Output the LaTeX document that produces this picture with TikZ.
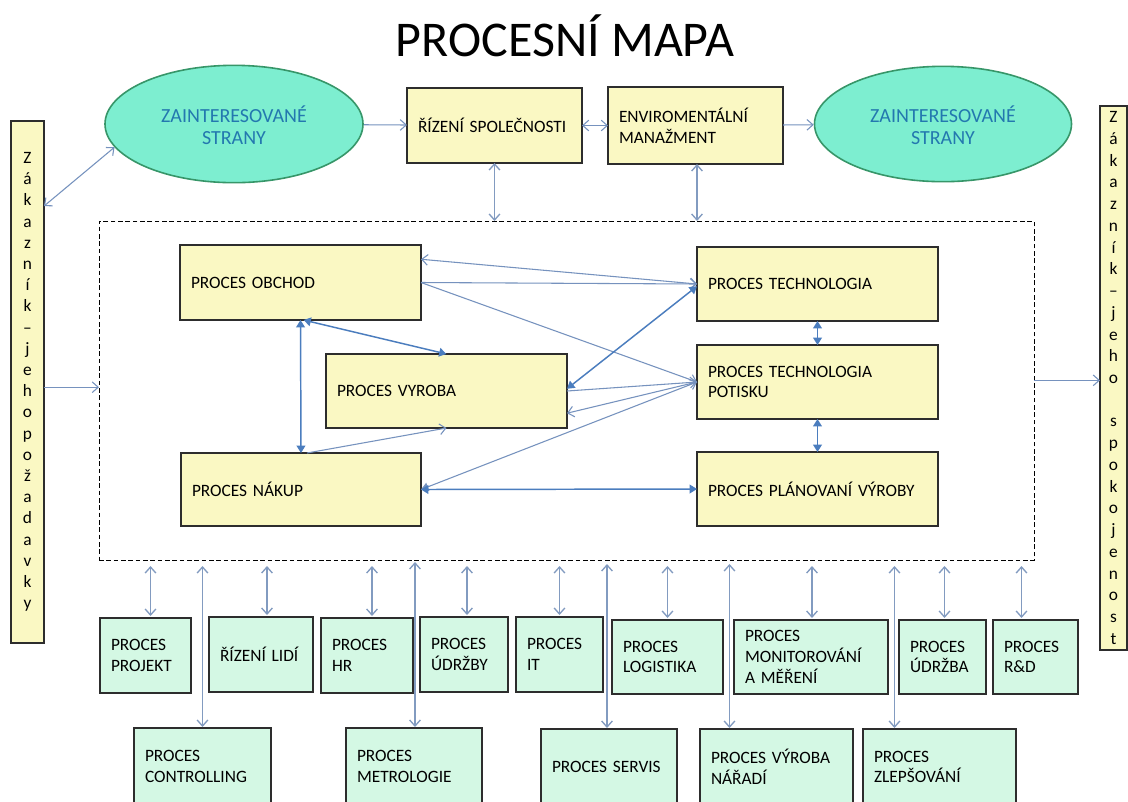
\documentclass[tikz,border=0pt]{standalone}
\usepackage{fontspec}
\setmainfont{Carlito}
\usetikzlibrary{arrows.meta,shapes.geometric,calc}
\definecolor{yfill}{RGB}{250,248,195}
\definecolor{gfill}{RGB}{212,248,228}
\definecolor{ellfill}{RGB}{125,238,208}
\definecolor{ellline}{RGB}{55,150,105}
\definecolor{elltext}{RGB}{35,120,175}
\definecolor{oline}{RGB}{118,146,190}
\definecolor{vline}{RGB}{130,155,192}
\definecolor{fline}{RGB}{75,125,190}
\definecolor{bord}{RGB}{45,45,45}
\newcommand{\procbox}[7]{%
 \pgfmathsetmacro{\pbW}{(#5-#3-22)*0.75}%
 \pgfmathsetmacro{\pbH}{(#6-#4)*0.75}%
 \node[#1, text width=\pbW pt, minimum height=\pbH pt] (#2) at ({(#3+#5)/2},{(#4+#6)/2}) {#7};}
\newcommand{\elltxt}{\raisebox{0pt}[\dimexpr\height+6.5pt\relax][\depth]{\begin{tabular}{@{}c@{}}ZAINTERESOVANÉ\\STRANY\end{tabular}}}
\tikzset{
 ot/.tip={Straight Barb[length=4.5pt,width=8pt]},
 ft/.tip={Triangle[length=5.5pt,width=6.5pt]},
 ybox/.style={draw=bord, line width=0.9pt, fill=yfill, inner xsep=8.25pt, inner ysep=0pt, outer sep=0pt, align=left, font=\fontsize{13}{15.6}\selectfont},
 gbox/.style={ybox, fill=gfill},
 ell/.style={ellipse, draw=ellline, line width=1.2pt, fill=ellfill, text=elltext, inner sep=0pt, font=\fontsize{15}{16.2}\selectfont},
 oarr/.style={draw=oline, line width=0.8pt},
 varr/.style={draw=vline, line width=1pt, ot-ot},
 farr/.style={draw=fline, line width=1.1pt},
 dashbox/.style={draw=black, line width=0.75pt, dash pattern=on 3.5pt off 2pt, inner sep=0pt, outer sep=0pt},
}
\begin{document}
\begin{tikzpicture}[x=0.75pt,y=-0.75pt]
\useasboundingbox (0,0) rectangle (1128,801);
\fill[white] (0,0) rectangle (1128,801);

\node[anchor=base, font=\fontsize{37.5}{40}\selectfont] (title) at (565,56) {PROCESNÍ MAPA};

% dashed frame
\node[dashbox, minimum width=701.25pt, minimum height=254.25pt] (dash) at (566.5,390.5) {};

% ellipses
\node[ell, minimum width=193.5pt, minimum height=88pt] (ell1) at (234,124) {\elltxt};
\node[ell, minimum width=192.75pt, minimum height=86.5pt] (ell2) at (943,124) {\elltxt};

% top boxes
\procbox{ybox}{rizeni}{407}{88}{582}{163}{ŘÍZENÍ SPOLEČNOSTI}
\procbox{ybox}{enviro}{608}{87}{783}{164}{ENVIROMENTÁLNÍ\\MANAŽMENT}

% side boxes
\node[ybox, align=center, inner xsep=0pt, minimum width=24.75pt, minimum height=391.5pt, font=\fontsize{13}{15.9}\selectfont] (zl) at (27.5,382)
 {Z\\á\\k\\a\\z\\n\\í\\k\\–\\j\\e\\h\\o\\p\\o\\ž\\a\\d\\a\\v\\k\\y};
\node[ybox, align=center, inner xsep=0pt, minimum width=20.25pt, minimum height=408pt, font=\fontsize{13}{16.3}\selectfont] (zr) at (1113.5,378)
 {Z\\á\\k\\a\\z\\n\\í\\k\\–\\j\\e\\h\\o\\~\\s\\p\\o\\k\\o\\j\\e\\n\\o\\s\\t};

% core processes
\procbox{ybox}{obchod}{180}{245}{421}{320}{PROCES OBCHOD}
\procbox{ybox}{vyroba}{326}{354}{567}{428}{PROCES VYROBA}
\procbox{ybox}{nakup}{181}{453}{421}{526}{PROCES NÁKUP}
\procbox{ybox}{tech}{697}{247}{938}{321}{PROCES TECHNOLOGIA}
\procbox{ybox}{pot}{697}{345}{938}{419}{PROCES TECHNOLOGIA\\POTISKU}
\procbox{ybox}{plan}{697}{452}{938}{526}{PROCES PLÁNOVANÍ VÝROBY}

% support processes, row 1
\procbox{gbox}{projekt}{100}{618}{191}{693}{PROCES\\PROJEKT}
\procbox{gbox}{lidi}{209}{617}{313}{692}{ŘÍZENÍ LIDÍ}
\procbox{gbox}{hr}{321}{618}{413}{693}{PROCES\\HR}
\procbox{gbox}{udrzby}{420}{617}{508}{692}{PROCES\\ÚDRŽBY}
\procbox{gbox}{it}{516}{617}{603}{692}{PROCES\\IT}
\procbox{gbox}{logistika}{612}{620}{723}{694}{PROCES\\LOGISTIKA}
\procbox{gbox}{monitor}{734}{620}{888}{694}{PROCES\\MONITOROVÁNÍ\\A MĚŘENÍ}
\procbox{gbox}{udrzba}{899}{620}{986}{694}{PROCES\\ÚDRŽBA}
\procbox{gbox}{rd}{993}{620}{1078}{694}{PROCES\\R\&D}
% row 2
\procbox{gbox}{controlling}{134}{728}{271}{805}{PROCES\\CONTROLLING}
\procbox{gbox}{metrologie}{346}{728}{482}{805}{PROCES\\METROLOGIE}
\procbox{gbox}{servis}{541}{729}{677}{805}{PROCES SERVIS}
\procbox{gbox}{naradi}{700}{729}{853}{805}{PROCES VÝROBA\\NÁŘADÍ}
\procbox{gbox}{zlepsovani}{863}{729}{1016}{805}{PROCES\\ZLEPŠOVÁNÍ}

% top connectors
\draw[oarr, -ot] (ell1) -- (rizeni);
\draw[oarr, ot-ot] (rizeni) -- (enviro);
\draw[oarr, -ot] (enviro) -- (ell2);
\draw[varr] (rizeni.south) -- (rizeni.south |- dash.north);
\draw[varr] ($(enviro.south)+(1.5,0)$) -- ($(enviro.south |- dash.north)+(1.5,0)$);
\draw[oarr, ot-ot] ($(zl.north east)!0.163!(zl.south east)$) -- (ell1.191);
\coordinate (zlo) at ($(zl.north east)!0.51!(zl.south east)$);
\draw[oarr, -ot] (zlo) -- (zlo -| dash.west);
\coordinate (dro) at ($(dash.north east)!0.47!(dash.south east)$);
\draw[oarr, -ot] (dro) -- (dro -| zr.west);

% core connectors
\draw[oarr, ot-ot] ($(obchod.north east)!0.19!(obchod.south east)$) -- (tech.west);
\draw[oarr, -ot] (obchod.east) -- (tech.west);
\draw[oarr, -ot] (obchod.east) -- (pot.west);
\draw[farr, ft-ft] ($(vyroba.north east)!0.47!(vyroba.south east)$) -- ($(tech.north west)!0.53!(tech.south west)$);
\draw[oarr, -ot] ($(vyroba.north east)!0.5!(vyroba.south east)$) -- (pot.west);
\draw[oarr, -ot] (pot.west) -- ($(vyroba.north east)!0.8!(vyroba.south east)$);
\draw[oarr, -ot] ($(nakup.north)+(6,0)$) -- (vyroba.south);
\draw[oarr, ft-ot] (nakup.east) -- (pot.west);
\draw[farr, ft-ft] (nakup.east) -- (plan.west);
\draw[farr, ft-ft] (obchod.south) -- (nakup.north);
\draw[farr, ft-ft] ($(obchod.south)+(3,0)$) -- (vyroba.north);
\draw[farr, ft-ft] (tech.south) -- (pot.north);
\draw[farr, ft-ft] (pot.south) -- (plan.north);

% support connectors
\draw[varr] ($(dash.south -| projekt.north)+(5,6)$) -- ($(projekt.north)+(5,-2)$);
\draw[varr] ($(dash.south -| lidi.north)+(6,6)$) -- ($(lidi.north)+(6,-2)$);
\draw[varr] ($(dash.south -| hr.north)+(5,6)$) -- ($(hr.north)+(5,-2)$);
\draw[varr] ($(dash.south -| udrzby.north)+(3,6)$) -- ($(udrzby.north)+(3,-2)$);
\draw[varr] ($(dash.south -| it.north)+(0,6)$) -- ($(it.north)+(0,-2)$);
\draw[varr] ($(dash.south -| logistika.north)+(0,6)$) -- ($(logistika.north)+(0,-2)$);
\draw[varr] ($(dash.south -| monitor.north)+(1,6)$) -- ($(monitor.north)+(1,-2)$);
\draw[varr] ($(dash.south -| udrzba.north)+(2,6)$) -- ($(udrzba.north)+(2,-2)$);
\draw[varr] ($(dash.south -| rd.north)+(-14,6)$) -- ($(rd.north)+(-14,-2)$);
\draw[varr] ($(dash.south -| controlling.north)+(0,6)$) -- ($(controlling.north)+(0,-1)$);
\draw[varr] ($(dash.south -| metrologie.north)+(1,2)$) -- ($(metrologie.north)+(1,-1)$);
\draw[varr] ($(dash.south -| servis.north)+(-2,4)$) -- ($(servis.north)+(-2,-1)$);
\draw[varr] ($(dash.south -| naradi.north)+(-47,4)$) -- ($(naradi.north)+(-47,-1)$);
\draw[varr] ($(dash.south -| zlepsovani.north)+(-45,6)$) -- ($(zlepsovani.north)+(-45,-1)$);
\end{tikzpicture}
\end{document}
